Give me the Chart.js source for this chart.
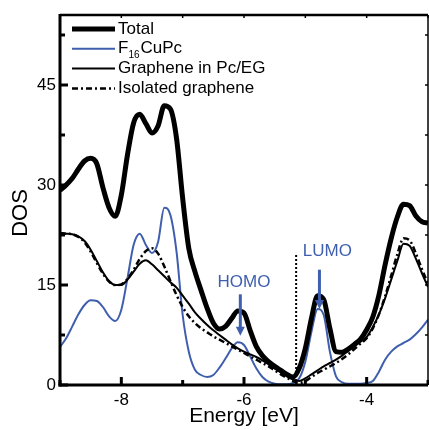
<!DOCTYPE html>
<html>
<head>
<meta charset="utf-8">
<script src="https://cdn.jsdelivr.net/npm/chart.js@4"></script>
<style>
  body { margin: 0; background: #fff; }
  #wrap { width: 429px; height: 430px; }
</style>
</head>
<body>
<div id="wrap"><canvas id="dosChart"></canvas></div>
<script>
  // energy grid [eV]
  const energy = [
    -9.0, -8.9, -8.8, -8.7, -8.6, -8.5, -8.4, -8.3, -8.2, -8.1,
    -8.0, -7.9, -7.8, -7.7, -7.6, -7.5, -7.4, -7.3, -7.2, -7.1,
    -7.0, -6.9, -6.8, -6.7, -6.6, -6.5, -6.4, -6.3, -6.2, -6.1,
    -6.0, -5.9, -5.8, -5.7, -5.6, -5.5, -5.4, -5.3, -5.2, -5.1,
    -5.0, -4.9, -4.8, -4.7, -4.6, -4.5, -4.4, -4.3, -4.2, -4.1,
    -4.0, -3.9, -3.8, -3.7, -3.6, -3.5, -3.4, -3.3, -3.2, -3.1,
    -3.0
  ];
  const totalDos = [
    29.2, 30.0, 31.0, 32.4, 33.6, 34.0, 33.2, 29.6, 26.6, 25.3,
    28.5, 34.5, 39.3, 40.6, 39.2, 37.8, 38.9, 41.9, 41.4, 37.0,
    28.0, 20.5, 17.0, 14.2, 11.5, 9.3, 8.4, 8.8, 10.0, 11.1,
    10.8, 8.2, 5.8, 4.4, 3.5, 2.8, 2.2, 1.6, 1.2, 2.5,
    5.5, 10.0, 13.4, 12.8, 8.5, 5.0, 4.9, 5.4, 6.1, 6.9,
    8.3, 10.2, 13.5, 18.0, 22.0, 25.2, 27.1, 26.9, 25.4, 24.5,
    24.3
  ];
  const pcDos = [
    5.7, 7.0, 8.8, 10.6, 12.0, 12.7, 12.6, 11.7, 10.3, 9.6,
    11.3, 16.0, 21.0, 22.7, 21.0, 19.8, 21.5, 26.6, 25.5, 20.0,
    10.5, 5.0, 2.3, 1.5, 1.2, 1.5, 2.6, 4.0, 5.5, 6.4,
    6.0, 4.3, 2.5, 1.2, 0.5, 0.2, 0.1, 0.1, 0.3, 1.0,
    3.5, 8.0, 11.4, 10.5, 5.0, 1.3, 0.4, 0.2, 0.2, 0.2,
    0.3, 0.6, 2.0, 3.8, 5.0, 5.8, 6.3, 6.8, 7.6, 8.6,
    9.8
  ];
  const grapheneDos = [
    22.8, 22.7, 22.6, 22.3, 21.6, 20.3, 18.6, 16.9, 15.6, 15.0,
    15.0, 15.8, 17.0, 18.2, 18.7, 18.1, 17.2, 16.3, 15.4, 14.6,
    13.4, 12.2, 10.9, 9.9, 9.0, 8.2, 7.5, 6.8, 6.1, 5.5,
    5.0, 4.6, 4.2, 3.7, 3.1, 2.5, 1.9, 1.3, 0.8, 0.6,
    1.0, 1.6, 2.2, 2.8, 3.3, 3.8, 4.4, 5.1, 5.8, 6.5,
    7.2, 8.7, 10.6, 13.0, 15.8, 18.6, 21.2, 20.9, 19.0, 16.8,
    14.7
  ];
  const isolatedDos = [
    22.8, 22.7, 22.6, 22.2, 21.4, 20.0, 18.3, 16.7, 15.5, 15.0,
    15.1, 15.9, 17.3, 18.9, 20.1, 20.5, 19.7, 17.8, 15.6, 13.5,
    11.7, 10.3, 9.3, 8.5, 7.9, 7.3, 6.8, 6.3, 5.8, 5.3,
    4.8, 4.3, 3.8, 3.3, 2.8, 2.2, 1.6, 1.1, 0.6, 0.3,
    0.6, 1.2, 1.8, 2.3, 2.8, 3.3, 3.9, 4.6, 5.4, 6.2,
    7.0, 8.5, 10.6, 13.3, 16.4, 19.6, 22.0, 21.7, 19.8, 17.4,
    15.2
  ];
  // dotted marker line
  const markerEnergy = [-5.15, -5.15];
  const markerDos = [0, 19.8];

  // HOMO / LUMO arrows (energy, arrow start, arrow tip, label position)
  const levelNames = ['HOMO', 'LUMO'];
  const levelEnergy = [-6.06, -4.77];
  const levelFrom = [13.6, 17.3];
  const levelTo = [7.4, 11.4];
  const labelEnergy = [-6.0, -4.64];
  const labelDos = [15.4, 20.0];

  const BLUE = '#3f5fae';
  const FONT = '"Liberation Sans", Arial, sans-serif';

  const pts = (ys) => energy.map((e, i) => ({x: e, y: ys[i]}));

  const legendItems = [
    {label: 'Total', width: 5, dash: []},
    {label: 'F|16|CuPc', width: 2, dash: [], color: BLUE},
    {label: 'Graphene in Pc/EG', width: 2, dash: []},
    {label: 'Isolated graphene', width: 2.5, dash: [6, 3, 2, 3]},
  ];

  function strokeLine(ctx, x1, y1, x2, y2) {
    ctx.beginPath();
    ctx.moveTo(x1, y1);
    ctx.lineTo(x2, y2);
    ctx.stroke();
  }

  // frame, inward ticks, annotations, legend
  const decorations = {
    id: 'decorations',
    afterDraw(chart) {
      const {ctx, chartArea: a, scales: {x, y}} = chart;
      ctx.save();
      ctx.strokeStyle = '#000';

      y.ticks.forEach(t => {
        const r = t.value / 7.5;
        if (Math.abs(r - Math.round(r)) > 1e-6) return;
        const py = y.getPixelForValue(t.value);
        const major = Math.round(r) % 2 === 0;
        ctx.lineWidth = 3;
        strokeLine(ctx, a.left, py, a.left + (major ? 8 : 5), py);
        ctx.lineWidth = 1.5;
        strokeLine(ctx, a.right, py, a.right - 3, py);
      });
      x.ticks.forEach(t => {
        const px = x.getPixelForValue(t.value);
        const major = Math.round(t.value) % 2 === 0;
        ctx.lineWidth = 3;
        strokeLine(ctx, px, a.bottom, px, a.bottom - (major ? 8 : 5));
        ctx.lineWidth = 1.5;
        strokeLine(ctx, px, a.top, px, a.top + 3);
      });

      // frame
      ctx.lineWidth = 2.5;
      strokeLine(ctx, a.left, a.top, a.right, a.top);
      ctx.lineWidth = 1.5;
      strokeLine(ctx, a.right, a.top, a.right, a.bottom);
      ctx.lineWidth = 3;
      strokeLine(ctx, a.left, a.top - 1, a.left, a.bottom + 1.5);
      strokeLine(ctx, a.left - 1.5, a.bottom, a.right, a.bottom);

      // y title
      ctx.save();
      ctx.translate(20.5, 213);
      ctx.rotate(-Math.PI / 2);
      ctx.fillStyle = '#000';
      ctx.font = '22px ' + FONT;
      ctx.textAlign = 'center';
      ctx.textBaseline = 'middle';
      ctx.fillText('DOS', 0, 0);
      ctx.restore();

      // HOMO / LUMO
      ctx.fillStyle = BLUE;
      ctx.strokeStyle = BLUE;
      ctx.font = '17px ' + FONT;
      ctx.textAlign = 'center';
      ctx.textBaseline = 'middle';
      levelNames.forEach((name, i) => {
        const px = x.getPixelForValue(levelEnergy[i]);
        const y1 = y.getPixelForValue(levelFrom[i]);
        const y2 = y.getPixelForValue(levelTo[i]);
        ctx.lineWidth = 3;
        strokeLine(ctx, px, y1, px, y2 - 8);
        ctx.beginPath();
        ctx.moveTo(px - 4.5, y2 - 9);
        ctx.lineTo(px + 4.5, y2 - 9);
        ctx.lineTo(px, y2);
        ctx.closePath();
        ctx.fill();
        ctx.fillText(name, x.getPixelForValue(labelEnergy[i]), y.getPixelForValue(labelDos[i]));
      });

      // legend
      legendItems.forEach((item, i) => {
        const ly = a.top + 14 + i * 19.8;
        ctx.strokeStyle = item.color || '#000';
        ctx.lineWidth = item.width;
        ctx.setLineDash(item.dash);
        strokeLine(ctx, a.left + 12, ly, a.left + 55, ly);
        ctx.setLineDash([]);
        ctx.fillStyle = '#000';
        ctx.textAlign = 'left';
        ctx.textBaseline = 'middle';
        let tx = a.left + 58;
        item.label.split('|').forEach((part, k) => {
          const sub = k % 2 === 1;
          ctx.font = (sub ? '10px ' : '17px ') + FONT;
          ctx.fillText(part, tx, ly + (sub ? 6 : 0));
          tx += ctx.measureText(part).width + (sub ? 1 : 0);
        });
      });
      ctx.restore();
    }
  };

  const ctx = document.getElementById('dosChart').getContext('2d');
  const dosChart = new Chart(ctx, {
    type: 'line',
    data: {
      datasets: [
        {label: 'Total', data: pts(totalDos), borderColor: '#000', borderWidth: 5},
        {label: 'Graphene in Pc/EG', data: pts(grapheneDos), borderColor: '#000', borderWidth: 2},
        {label: 'Isolated graphene', data: pts(isolatedDos), borderColor: '#000', borderWidth: 2.5, borderDash: [6, 3, 2, 3]},
        {label: 'F16CuPc', data: pts(pcDos), borderColor: BLUE, borderWidth: 2},
        {label: 'marker', data: markerEnergy.map((e, i) => ({x: e, y: markerDos[i]})),
         borderColor: '#000', borderWidth: 2, borderDash: [2, 2], cubicInterpolationMode: 'default', tension: 0},
      ]
    },
    options: {
      responsive: true,
      maintainAspectRatio: false,
      animation: false,
      layout: {padding: {left: 0, right: 1, top: 15, bottom: 0}},
      elements: {
        point: {radius: 0},
        line: {cubicInterpolationMode: 'monotone', fill: false}
      },
      plugins: {legend: {display: false}, tooltip: {enabled: false}},
      scales: {
        x: {
          type: 'linear',
          min: -9, max: -3,
          grid: {display: false, drawTicks: false},
          border: {display: false},
          afterFit: (s) => { s.height = 45; s.paddingLeft = 0; s.paddingRight = 0; },
          ticks: {
            stepSize: 1,
            padding: 5,
            color: '#000',
            font: {family: FONT, size: 17},
            callback: (v) => (Math.round(v) % 2 === 0 ? String(v) : '')
          },
          title: {
            display: true,
            text: 'Energy [eV]',
            color: '#000',
            font: {family: FONT, size: 21},
            padding: {top: 0, bottom: 1}
          }
        },
        y: {
          min: 0, max: 55.5,
          grid: {display: false, drawTicks: false},
          border: {display: false},
          afterFit: (s) => { s.width = 60; s.paddingTop = 0; s.paddingBottom = 0; },
          ticks: {
            stepSize: 7.5,
            padding: 4,
            color: '#000',
            font: {family: FONT, size: 17},
            callback: (v) => (Math.abs(v % 15) < 1e-6 ? String(v) : '')
          }
        }
      }
    },
    plugins: [decorations]
  });
</script>
</body>
</html>
